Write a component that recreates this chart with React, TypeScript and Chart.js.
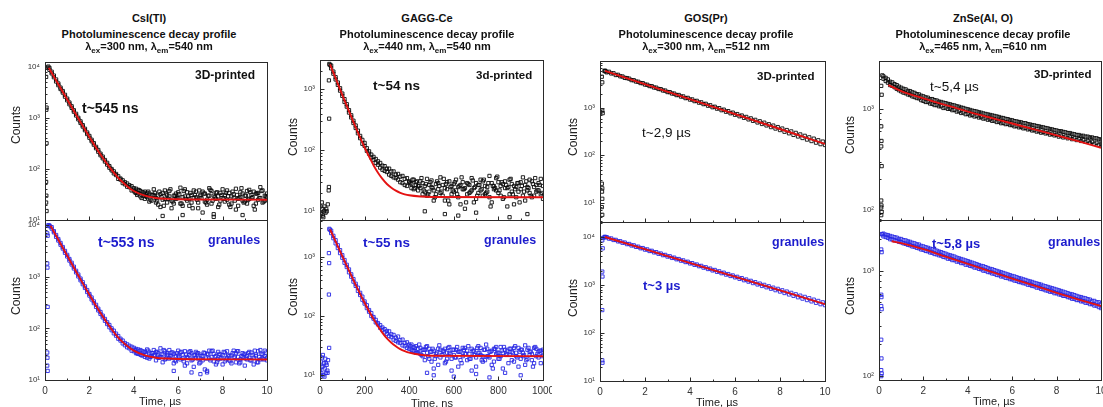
import React, { useEffect, useRef } from "react";
import { Chart, registerables } from "chart.js";

Chart.register(...registerables);

const FONT = '"Liberation Sans", Arial, Helvetica, sans-serif';
const RED = "rgb(228,18,18)";
const BLACK_PTS = "#0a0a0a";
const BLUE_PTS = "rgb(40,40,228)";
const BLUE_TXT = "rgb(28,28,205)";

// ---------- shared time grids ----------
const timeUs = [
  0.2, 0.3, 0.4, 0.5, 0.6, 0.7, 0.8, 0.9, 1.0, 1.1,
  1.2, 1.3, 1.4, 1.5, 1.6, 1.7, 1.8, 1.9, 2.0, 2.1,
  2.2, 2.3, 2.4, 2.5, 2.6, 2.7, 2.8, 2.9, 3.0, 3.1,
  3.2, 3.3, 3.4, 3.5, 3.6, 3.7, 3.8, 3.9, 4.0, 4.1,
  4.2, 4.3, 4.4, 4.5, 4.6, 4.7, 4.8, 4.9, 5.0, 5.1,
  5.2, 5.3, 5.4, 5.5, 5.6, 5.7, 5.8, 5.9, 6.0, 6.1,
  6.2, 6.3, 6.4, 6.5, 6.6, 6.7, 6.8, 6.9, 7.0, 7.1,
  7.2, 7.3, 7.4, 7.5, 7.6, 7.7, 7.8, 7.9, 8.0, 8.1,
  8.2, 8.3, 8.4, 8.5, 8.6, 8.7, 8.8, 8.9, 9.0, 9.1,
  9.2, 9.3, 9.4, 9.5, 9.6, 9.7, 9.8, 9.9, 10.0,
];
const timeUsTail = [
  4.05, 4.15, 4.25, 4.35, 4.45, 4.55, 4.65, 4.75, 4.85, 4.95,
  5.05, 5.15, 5.25, 5.35, 5.45, 5.55, 5.65, 5.75, 5.85, 5.95,
  6.05, 6.15, 6.25, 6.35, 6.45, 6.55, 6.65, 6.75, 6.85, 6.95,
  7.05, 7.15, 7.25, 7.35, 7.45, 7.55, 7.65, 7.75, 7.85, 7.95,
  8.05, 8.15, 8.25, 8.35, 8.45, 8.55, 8.65, 8.75, 8.85, 8.95,
  9.05, 9.15, 9.25, 9.35, 9.45, 9.55, 9.65, 9.75, 9.85, 9.95,
];
const timeNs = [
  50, 60, 70, 80, 90, 100, 110, 120, 130, 140,
  150, 160, 170, 180, 190, 200, 210, 220, 230, 240,
  250, 260, 270, 280, 290, 300, 310, 320, 330, 340,
  350, 360, 370, 380, 390, 400, 410, 420, 430, 440,
  450, 460, 470, 480, 490, 500, 510, 520, 530, 540,
  550, 560, 570, 580, 590, 600, 610, 620, 630, 640,
  650, 660, 670, 680, 690, 700, 710, 720, 730, 740,
  750, 760, 770, 780, 790, 800, 810, 820, 830, 840,
  850, 860, 870, 880, 890, 900, 910, 920, 930, 940,
  950, 960, 970, 980, 990, 1000,
];
const timeNsTail = [
  405, 415, 425, 435, 445, 455, 465, 475, 485, 495,
  505, 515, 525, 535, 545, 555, 565, 575, 585, 595,
  605, 615, 625, 635, 645, 655, 665, 675, 685, 695,
  705, 715, 725, 735, 745, 755, 765, 775, 785, 795,
  805, 815, 825, 835, 845, 855, 865, 875, 885, 895,
  905, 915, 925, 935, 945, 955, 965, 975, 985, 995,
];

const yTickValues = [1, 10, 100, 1000, 10000, 100000];
const xTicksUs = [0, 2, 4, 6, 8, 10];
const xTicksNs = [0, 200, 400, 600, 800, 1000];

// ---------- CsI(Tl) ----------
const csiPrintedA = [
  9600, 8100, 6300, 5700, 4400, 3950, 3150, 2850, 2220, 2010,
  1580, 1420, 1120, 1010, 800, 725, 575, 520, 410, 375,
  300, 272, 218, 200, 162, 150, 122, 114, 94, 90,
  76, 72, 62, 60, 50, 52, 44, 46, 38, 41,
  33, 37, 30, 36, 28, 33, 24, 31, 27, 20,
  32, 25, 38, 22, 29, 17, 30, 26, 35, 21,
  28, 40, 24, 19, 31, 27, 36, 22, 29, 14,
  33, 25, 42, 21, 30, 26, 18, 34, 27, 23,
  38, 20, 29, 32, 16, 26, 35, 24, 30, 21,
  39, 27, 19, 33, 25, 44, 22, 30, 28,
];
const csiPrintedB = [
  8800, 7500, 6800, 5200, 4750, 3700, 3380, 2620, 2400, 1860,
  1700, 1330, 1210, 940, 860, 680, 615, 485, 445, 350,
  322, 255, 236, 186, 175, 140, 132, 106, 100, 82,
  80, 64, 65, 53, 55, 45, 48, 38, 42, 34,
  39, 29, 35, 26, 34, 23, 31, 40, 22, 30,
  18, 34, 26, 31, 37, 24, 21, 33, 27, 43,
  19, 29, 35, 26, 22, 38, 28, 17, 31, 36,
  23, 20, 30, 37, 13, 34, 29, 24, 40, 31,
  25, 34, 21, 27, 41, 19, 28, 33, 23, 37,
  26, 31, 36, 21, 34, 27, 38, 24, 33,
];
const csiPrintedC = [
  35, 31, 38, 27, 33, 29, 36, 25, 31, 34,
  24, 36, 28, 19, 33, 26, 40, 23, 30, 27,
  32, 21, 37, 26, 29, 34, 17, 31, 25, 38,
  27, 33, 22, 30, 39, 24, 28, 35, 20, 31,
  26, 34, 29, 18, 36, 24, 31, 27, 42, 22,
  30, 25, 35, 28, 16, 33, 27, 37, 23, 29,
];
const csiPrintedExtraT = [0.05, 0.07, 0.06, 0.07, 0.05, 0.06, 0.05, 0.07, 0.12, 0.15, 5.3, 6.2, 7.6, 8.9];
const csiPrintedExtraC = [6400, 1600, 1450, 320, 56, 30, 22, 15, 9700, 10200, 12, 12.5, 11.5, 12.5];
const csiPrintedFitT = [0.15, 0.5, 1, 1.5, 2, 2.5, 3, 3.25, 3.5, 3.75, 4, 4.5, 5, 5.5, 6, 10];
const csiPrintedFitC = [10025, 5466, 2306, 981, 426, 193, 96, 71, 55, 44, 37, 30, 27, 26, 25.5, 25];

const csiGranulesA = [
  9800, 9100, 7200, 6400, 5000, 4500, 3500, 3150, 2460, 2200,
  1720, 1560, 1210, 1100, 850, 780, 605, 550, 430, 395,
  308, 285, 222, 207, 163, 152, 121, 116, 92, 90,
  72, 71, 58, 58, 47, 49, 41, 44, 36, 40,
  32, 38, 30, 35, 27, 34, 29, 38, 24, 33,
  28, 22, 36, 30, 26, 34, 21, 29, 37, 25,
  31, 19, 28, 35, 24, 30, 27, 33, 22, 29,
  16, 32, 26, 36, 23, 29, 25, 31, 20, 34,
  27, 24, 30, 37, 22, 28, 25, 33, 19, 29,
  35, 24, 27, 31, 22, 38, 26, 29, 24,
];
const csiGranulesB = [
  9500, 8500, 7600, 5900, 5350, 4150, 3750, 2900, 2640, 2050,
  1860, 1440, 1300, 1010, 920, 715, 650, 505, 462, 362,
  332, 260, 240, 190, 176, 140, 131, 105, 100, 80,
  79, 63, 63, 51, 52, 43, 46, 37, 42, 33,
  39, 31, 36, 28, 39, 26, 33, 30, 35, 27,
  41, 31, 25, 33, 38, 27, 32, 23, 30, 34,
  26, 36, 21, 30, 33, 18, 35, 26, 31, 24,
  33, 15, 37, 28, 32, 20, 35, 26, 30, 23,
  36, 29, 21, 27, 33, 36, 22, 28, 32, 25,
  27, 34, 20, 29, 36, 25, 31, 37, 27,
];
const csiGranulesC = [
  38, 33, 36, 30, 34, 31, 37, 28, 33, 30,
  35, 27, 32, 38, 26, 31, 29, 34, 24, 33,
  28, 35, 23, 31, 27, 36, 25, 30, 33, 21,
  29, 34, 26, 31, 24, 37, 28, 22, 32, 27,
  35, 25, 30, 23, 33, 28, 36, 21, 29, 31,
  26, 33, 24, 30, 37, 22, 28, 32, 25, 34,
];
const csiGranulesExtraT = [0.1, 0.12, 0.1, 0.11, 0.12, 0.1, 0.11, 0.1, 0.12, 0.15, 6.6, 7.0, 7.3, 5.8];
const csiGranulesExtraC = [6900, 6200, 1800, 1500, 260, 34, 27, 19, 15, 9900, 14, 13, 14, 15];
const csiGranulesFitT = [0.25, 0.5, 1, 1.5, 2, 2.5, 3, 3.25, 3.5, 3.75, 4, 4.5, 5, 5.5, 6, 10];
const csiGranulesFitC = [9650, 6183, 2546, 1057, 447, 198, 96, 70, 54, 44, 37, 30, 27, 26, 25.5, 25];

// ---------- GAGG-Ce ----------
const gaggPrintedA = [
  2450, 1800, 1580, 1180, 1040, 780, 690, 520, 455, 345,
  305, 232, 210, 158, 148, 118, 108, 88, 85, 70,
  72, 58, 62, 48, 55, 44, 50, 38, 45, 35,
  41, 30, 38, 27, 35, 30, 24, 33, 27, 22,
  31, 19, 26, 34, 21, 25, 15, 28, 23, 36,
  18, 24, 30, 13, 26, 21, 33, 17, 27, 23,
  11, 29, 20, 35, 24, 16, 27, 22, 31, 19,
  25, 38, 14, 26, 22, 30, 18, 28, 24, 12,
  33, 21, 26, 17, 29, 23, 36, 15, 25, 20,
  31, 18, 27, 22, 34, 16,
];
const gaggPrintedB = [
  2200, 1950, 1450, 1290, 950, 850, 620, 570, 415, 375,
  280, 255, 190, 172, 128, 132, 98, 96, 76, 78,
  62, 66, 52, 56, 46, 50, 40, 45, 36, 40,
  33, 37, 29, 34, 26, 31, 28, 23, 30, 26,
  24, 29, 21, 18, 27, 32, 22, 19, 29, 20,
  27, 15, 23, 31, 19, 28, 22, 25, 13, 30,
  24, 19, 27, 22, 14, 29, 20, 33, 18, 26,
  21, 17, 29, 23, 35, 20, 26, 16, 31, 24,
  19, 28, 13, 25, 21, 30, 18, 27, 22, 33,
  17, 25, 21, 29, 19, 26,
];
const gaggPrintedC = [
  29, 33, 24, 31, 26, 35, 22, 28, 19, 30,
  24, 17, 31, 26, 21, 34, 28, 15, 25, 22,
  30, 19, 26, 36, 23, 14, 28, 21, 32, 25,
  18, 27, 23, 33, 20, 29, 12, 26, 24, 37,
  22, 30, 17, 27, 25, 34, 19, 23, 29, 14,
  26, 21, 31, 24, 18, 28, 35, 22, 27, 20,
];
const gaggPrintedExtraT = [42, 44, 40, 41, 40, 39, 2, 5, 8, 10, 12, 15, 18, 20, 25, 28, 30, 35, 470, 560, 620, 700, 850, 930];
const gaggPrintedExtraC = [2600, 2500, 1400, 330, 25, 22, 12, 9, 14, 11, 8.5, 8, 10, 12, 9.5, 11, 10, 13, 10, 9, 8.5, 9.5, 8, 9];
const gaggPrintedFitT = [45, 60, 80, 100, 120, 140, 160, 180, 200, 220, 240, 260, 280, 300, 320, 340, 360, 380, 400, 450, 500, 1000];
const gaggPrintedFitC = [2570, 1873, 1229, 809, 535, 355, 238, 161, 111, 79, 57, 43, 34, 28, 24.3, 21.8, 20.1, 19, 18.3, 17.5, 17.2, 17];

const gaggGranulesA = [
  2750, 2050, 1900, 1400, 1290, 960, 880, 670, 610, 460,
  420, 322, 300, 226, 212, 162, 152, 118, 112, 90,
  86, 72, 70, 58, 60, 50, 55, 44, 48, 38,
  45, 35, 40, 31, 36, 28, 33, 26, 31, 24,
  29, 21, 27, 31, 19, 25, 13, 23, 28, 20,
  26, 16, 24, 30, 19, 22, 27, 14, 25, 21,
  29, 18, 23, 12, 26, 20, 31, 22, 17, 27,
  21, 25, 15, 28, 23, 19, 30, 24, 11, 26,
  22, 18, 29, 24, 14, 27, 21, 32, 19, 25,
  23, 16, 28, 20, 26, 22,
];
const gaggGranulesB = [
  2500, 2250, 1680, 1560, 1150, 1060, 790, 730, 545, 505,
  380, 350, 265, 246, 188, 176, 136, 126, 100, 96,
  78, 76, 63, 64, 53, 56, 46, 49, 40, 43,
  36, 39, 32, 35, 29, 33, 27, 30, 24, 28,
  23, 27, 18, 24, 28, 17, 26, 21, 15, 27,
  22, 28, 19, 24, 12, 27, 20, 25, 18, 29,
  23, 26, 19, 28, 22, 14, 24, 29, 21, 18,
  28, 20, 26, 17, 30, 24, 21, 13, 27, 23,
  28, 25, 17, 21, 29, 19, 24, 15, 27, 22,
  18, 29, 21, 25, 16, 27,
];
const gaggGranulesC = [
  31, 26, 29, 24, 33, 22, 27, 30, 21, 25,
  28, 19, 24, 32, 22, 26, 17, 29, 23, 27,
  20, 30, 25, 16, 27, 23, 31, 19, 26, 22,
  29, 24, 18, 27, 33, 21, 25, 13, 28, 24,
  19, 26, 30, 22, 16, 28, 24, 31, 20, 25,
  27, 22, 18, 29, 25, 14, 30, 23, 26, 21,
];
const gaggGranulesExtraT = [42, 44, 40, 41, 40, 41, 0, 3, 6, 9, 12, 15, 18, 21, 24, 27, 30, 33, 36, 2, 7, 13, 20, 26, 34, 480, 510, 600, 700, 760, 900];
const gaggGranulesExtraC = [2950, 2850, 1150, 780, 230, 29, 12, 17, 11, 20, 14, 10, 16, 13, 19, 11, 15, 12, 18, 10, 14, 22, 9.5, 16, 11, 11, 10, 9.5, 10.5, 9.2, 10];
const gaggGranulesFitT = [45, 60, 80, 100, 120, 140, 160, 180, 200, 220, 240, 260, 280, 300, 320, 340, 360, 380, 400, 450, 500, 1000];
const gaggGranulesFitC = [2901, 2179, 1490, 1021, 702, 484, 336, 236, 167, 120, 89, 67, 52, 42, 35.5, 31, 27.7, 25.6, 24.1, 22.2, 21.4, 21];

// ---------- GOS(Pr) ----------
const gosPrinted = [
  6050, 5700, 5850, 5400, 5450, 5000, 5050, 4700, 4650, 4350,
  4300, 4180, 3900, 3880, 3640, 3600, 3380, 3360, 3140, 3110,
  2920, 2900, 2720, 2700, 2530, 2510, 2350, 2340, 2180, 2170,
  2030, 2020, 1880, 1890, 1750, 1760, 1620, 1640, 1510, 1520,
  1400, 1420, 1300, 1320, 1210, 1230, 1120, 1145, 1040, 1065,
  970, 995, 900, 925, 835, 860, 775, 800, 720, 745,
  670, 695, 620, 648, 575, 605, 535, 562, 495, 525,
  460, 490, 428, 455, 395, 425, 368, 395, 342, 368,
  315, 342, 292, 320, 270, 298, 250, 276, 232, 258,
  215, 240, 200, 225, 185, 208, 172, 195, 165,
];
const gosPrintedExtraT = [0.22, 0.25, 0.1, 0.08, 0.1, 0.12, 0.08, 0.1, 0.09, 0.1, 0.08, 0.1];
const gosPrintedExtraC = [6200, 6000, 3500, 4600, 880, 780, 25, 20, 17, 12, 8, 5.5];
const gosPrintedFitT = [0.22, 5, 10];
const gosPrintedFitC = [6100, 1073, 174];

const gosGranules = [
  9950, 9900, 9250, 9300, 8650, 8700, 8100, 8150, 7580, 7650,
  7100, 7150, 6650, 6700, 6220, 6270, 5820, 5870, 5450, 5500,
  5100, 5150, 4770, 4830, 4470, 4520, 4180, 4230, 3910, 3960,
  3660, 3710, 3430, 3470, 3210, 3250, 3000, 3050, 2810, 2850,
  2630, 2670, 2460, 2500, 2300, 2340, 2150, 2195, 2010, 2055,
  1880, 1925, 1760, 1805, 1645, 1690, 1540, 1580, 1440, 1480,
  1345, 1390, 1255, 1300, 1175, 1220, 1095, 1145, 1025, 1070,
  955, 1005, 895, 940, 835, 880, 780, 830, 730, 775,
  680, 730, 635, 685, 595, 640, 555, 600, 520, 565,
  485, 530, 455, 495, 425, 465, 398, 435, 380,
];
const gosGranulesExtraT = [0.22, 0.25, 0.1, 0.12, 0.1, 0.11, 0.1, 0.1, 0.11, 0.12];
const gosGranulesExtraC = [10100, 9900, 8500, 5800, 1900, 1500, 300, 27, 24, 9500];
const gosGranulesFitT = [0.22, 5, 10];
const gosGranulesFitC = [10000, 2070, 399];

// ---------- ZnSe(Al, O) ----------
const znsePrintedA = [
  2100, 1890, 1960, 1720, 1830, 1640, 1720, 1530, 1620, 1450,
  1560, 1390, 1500, 1330, 1440, 1280, 1390, 1220, 1330, 1170,
  1290, 1130, 1250, 1090, 1210, 1060, 1170, 1020, 1140, 1000,
  1110, 970, 1080, 940, 1050, 910, 1020, 885, 990, 860,
  960, 840, 940, 820, 915, 800, 890, 780, 870, 760,
  850, 740, 830, 720, 810, 705, 790, 690, 770, 670,
  750, 655, 735, 640, 720, 625, 700, 610, 685, 595,
  670, 580, 655, 570, 640, 555, 625, 545, 610, 530,
  600, 520, 585, 510, 575, 500, 560, 490, 550, 480,
  540, 470, 530, 460, 520, 450, 510, 440, 495,
];
const znsePrintedB = [
  1990, 2030, 1820, 1860, 1690, 1760, 1580, 1660, 1490, 1580,
  1430, 1510, 1370, 1460, 1310, 1400, 1270, 1350, 1200, 1300,
  1170, 1250, 1120, 1220, 1090, 1180, 1060, 1150, 1030, 1120,
  1000, 1090, 975, 1060, 945, 1030, 920, 1000, 890, 975,
  870, 950, 850, 925, 825, 900, 805, 880, 785, 860,
  765, 840, 745, 815, 725, 795, 710, 775, 690, 755,
  675, 740, 660, 720, 645, 705, 630, 690, 615, 675,
  600, 660, 590, 645, 575, 630, 565, 615, 550, 600,
  540, 590, 530, 575, 520, 565, 510, 550, 500, 540,
  490, 530, 480, 520, 470, 510, 460, 500, 445,
];
const znsePrintedExtraT = [0.15, 0.1, 0.12, 0.1, 0.11, 0.1, 0.12, 0.1, 0.11, 0.1, 0.12, 0.1];
const znsePrintedExtraC = [2150, 1690, 1380, 670, 480, 424, 270, 123, 110, 105, 95, 88];
const znsePrintedFitT = [0.42, 1, 2, 3, 4, 5, 6, 7, 8, 9, 10];
const znsePrintedFitC = [1720, 1500, 1270, 1090, 940, 820, 715, 625, 545, 475, 410];

const znseGranulesA = [
  2250, 2090, 2180, 1990, 2110, 1940, 2060, 1880, 2000, 1820,
  1940, 1760, 1880, 1700, 1820, 1650, 1770, 1590, 1700, 1540,
  1650, 1490, 1600, 1440, 1550, 1400, 1500, 1350, 1450, 1300,
  1400, 1260, 1360, 1220, 1310, 1180, 1270, 1140, 1230, 1110,
  1190, 1070, 1150, 1040, 1110, 1000, 1080, 970, 1040, 940,
  1010, 910, 980, 880, 950, 855, 920, 830, 890, 805,
  865, 780, 840, 760, 815, 735, 790, 715, 765, 690,
  745, 670, 720, 650, 700, 630, 680, 610, 660, 595,
  640, 575, 620, 560, 600, 540, 585, 525, 565, 510,
  550, 495, 535, 480, 515, 465, 500, 450, 485,
];
const znseGranulesB = [
  2120, 2200, 2050, 2140, 1980, 2080, 1920, 2010, 1860, 1950,
  1800, 1900, 1740, 1840, 1690, 1780, 1630, 1720, 1580, 1670,
  1530, 1620, 1480, 1570, 1430, 1520, 1390, 1470, 1340, 1420,
  1300, 1380, 1260, 1330, 1220, 1290, 1180, 1250, 1140, 1210,
  1100, 1170, 1070, 1130, 1030, 1100, 1000, 1060, 965, 1030,
  935, 995, 905, 965, 880, 935, 850, 905, 825, 880,
  800, 850, 775, 825, 755, 800, 730, 780, 710, 755,
  690, 735, 665, 710, 645, 690, 630, 670, 610, 650,
  590, 630, 575, 610, 555, 595, 540, 575, 525, 560,
  510, 545, 495, 530, 480, 515, 465, 500, 440,
];
const znseGranulesExtraT = [0.12, 0.15, 0.1, 0.12, 0.1, 0.11, 0.1, 0.12, 0.1, 0.11, 0.1, 0.12, 0.1];
const znseGranulesExtraC = [2230, 2210, 1590, 1500, 590, 560, 460, 430, 220, 146, 113, 105, 99];
const znseGranulesFitT = [0.57, 1, 2, 3, 4, 5, 6, 7, 8, 9, 10];
const znseGranulesFitC = [1905, 1830, 1600, 1360, 1160, 985, 840, 720, 615, 530, 460];

// ---------- helpers ----------
type XY = { t: number[]; c: number[] };

function zip(t: number[], c: number[]) {
  const n = Math.min(t.length, c.length);
  const out: { x: number; y: number }[] = [];
  for (let i = 0; i < n; i++) out.push({ x: t[i], y: c[i] });
  return out;
}

const SUP: Record<number, string> = { 0: "\u2070", 1: "\u00B9", 2: "\u00B2", 3: "\u00B3", 4: "\u2074", 5: "\u2075" };
function powLabel(v: number) {
  const e = Math.round(Math.log10(v));
  return "10" + (SUP[e] ?? "");
}

interface SubplotProps {
  left: number;
  right: number;
  top: number;
  bottom: number;
  xMax: number;
  xTicks: number[];
  xMinor: number;
  showX: boolean;
  yMin: number;
  yMax: number;
  series: XY[];
  fit: XY;
  color: string;
}

function Subplot(p: SubplotProps) {
  const ref = useRef<HTMLCanvasElement | null>(null);
  const PADL = 42;
  const PADT = 8;
  const PADR = 9;
  const PADB = p.showX ? 20 : 8;
  const w = p.right - p.left + PADL + PADR;
  const h = p.bottom - p.top + PADT + PADB;

  useEffect(() => {
    if (!ref.current) return;
    const framePlugin = {
      id: "frameTicks",
      afterDatasetsDraw(chart: any) {
        const { ctx, chartArea: a, scales } = chart;
        const xs = scales.x;
        const ys = scales.y;
        const L = Math.round(a.left);
        const R = Math.round(a.right);
        const T = Math.round(a.top);
        const B = Math.round(a.bottom);
        ctx.save();
        ctx.strokeStyle = "#2a2a2a";
        ctx.lineWidth = 1;
        ctx.strokeRect(L + 0.5, T + 0.5, R - L, B - T);
        ctx.beginPath();
        const nMinor = Math.round(p.xMax / p.xMinor);
        for (let i = 0; i <= nMinor; i++) {
          const v = i * p.xMinor;
          const px = Math.round(xs.getPixelForValue(v)) + 0.5;
          const major = p.xTicks.indexOf(v) >= 0;
          const len = major ? 4 : 2;
          ctx.moveTo(px, B + 0.5);
          ctx.lineTo(px, B + 0.5 - len);
        }
        const e0 = Math.floor(Math.log10(p.yMin));
        const e1 = Math.ceil(Math.log10(p.yMax));
        for (let e = e0; e <= e1; e++) {
          for (let m = 1; m <= 9; m++) {
            const v = m * Math.pow(10, e);
            if (v < p.yMin || v > p.yMax) continue;
            const py = Math.round(ys.getPixelForValue(v)) + 0.5;
            const len = m === 1 ? 4 : 2;
            ctx.moveTo(L + 0.5, py);
            ctx.lineTo(L + 0.5 + len, py);
          }
        }
        ctx.stroke();
        ctx.restore();
      },
    };

    const datasets: any[] = [
      {
        label: "fit",
        data: zip(p.fit.t, p.fit.c),
        showLine: true,
        borderColor: RED,
        backgroundColor: RED,
        borderWidth: 1.9,
        pointRadius: 0,
        pointHitRadius: 0,
        cubicInterpolationMode: "monotone",
        order: 0,
      },
      ...p.series.map((s, i) => ({
        label: "data" + i,
        data: zip(s.t, s.c),
        showLine: false,
        pointStyle: "rect",
        pointRadius: 2.3,
        borderWidth: 0.9,
        borderColor: p.color,
        backgroundColor: "rgba(255,255,255,0)",
        order: 1 + i,
      })),
    ];

    const chart = new Chart(ref.current, {
      type: "scatter",
      data: { datasets },
      options: {
        responsive: false,
        animation: false,
        devicePixelRatio: 1,
        events: [],
        layout: { padding: { left: 0, top: PADT, right: PADR, bottom: p.showX ? 0 : PADB } },
        plugins: {
          legend: { display: false },
          tooltip: { enabled: false },
          title: { display: false },
        },
        scales: {
          x: {
            type: "linear",
            min: 0,
            max: p.xMax,
            grid: { display: false, drawTicks: false },
            border: { display: false },
            afterBuildTicks: (s: any) => {
              s.ticks = p.xTicks.map((v) => ({ value: v }));
            },
            ticks: {
              display: p.showX,
              autoSkip: false,
              maxRotation: 0,
              padding: 5,
              color: "#333",
              font: { family: FONT, size: 10 },
              callback: (v: any) => String(v),
            },
            afterFit: (s: any) => {
              s.height = p.showX ? PADB : 0;
              s.paddingLeft = 0;
              s.paddingRight = 0;
            },
          },
          y: {
            type: "logarithmic",
            min: p.yMin,
            max: p.yMax,
            grid: { display: false, drawTicks: false },
            border: { display: false },
            afterBuildTicks: (s: any) => {
              s.ticks = yTickValues
                .filter((v) => v >= p.yMin && v <= p.yMax)
                .map((v) => ({ value: v, major: true }));
            },
            ticks: {
              autoSkip: false,
              padding: 5,
              color: "#333",
              font: { family: FONT, size: 8 },
              callback: (v: any) => powLabel(Number(v)),
            },
            afterFit: (s: any) => {
              s.width = PADL;
              s.paddingTop = 0;
              s.paddingBottom = 0;
            },
          },
        },
      } as any,
      plugins: [framePlugin],
    });
    return () => chart.destroy();
  }, []);

  return (
    <canvas
      ref={ref}
      width={w}
      height={h}
      style={{ position: "absolute", left: p.left - PADL, top: p.top - PADT, width: w, height: h }}
    />
  );
}

function Txt(props: {
  x: number;
  y: number;
  size: number;
  bold?: boolean;
  color?: string;
  center?: boolean;
  children: React.ReactNode;
}) {
  return (
    <div
      style={{
        position: "absolute",
        left: props.x,
        top: props.y,
        transform: props.center ? "translate(-50%,-50%)" : "translate(0,-50%)",
        fontSize: props.size,
        fontWeight: props.bold ? 700 : 400,
        color: props.color ?? "#111",
        whiteSpace: "nowrap",
        lineHeight: 1,
        fontFamily: FONT,
      }}
    >
      {props.children}
    </div>
  );
}

function CountsLabel({ x, y }: { x: number; y: number }) {
  return (
    <div
      style={{
        position: "absolute",
        left: x,
        top: y,
        transform: "translate(-50%,-50%) rotate(-90deg)",
        fontSize: 12,
        color: "#222",
        whiteSpace: "nowrap",
        lineHeight: 1,
        fontFamily: FONT,
      }}
    >
      Counts
    </div>
  );
}

const subStyle: React.CSSProperties = { fontSize: 8, verticalAlign: "-3px", lineHeight: 1 };

function PanelTitle({ cx, name, ex, em }: { cx: number; name: string; ex: string; em: string }) {
  return (
    <>
      <Txt x={cx} y={18} size={11} bold center>
        {name}
      </Txt>
      <Txt x={cx} y={34} size={11} bold center>
        Photoluminescence decay profile
      </Txt>
      <Txt x={cx} y={48} size={11} bold center>
        <span>
          λ<sub style={subStyle}>ex</sub>={ex} nm, λ<sub style={subStyle}>em</sub>={em} nm
        </span>
      </Txt>
    </>
  );
}

export default function App() {
  return (
    <div
      style={{
        position: "absolute",
        left: 0,
        top: 0,
        width: 1103,
        height: 407,
        overflow: "hidden",
        background: "#fff",
        fontFamily: FONT,
      }}
    >
      {/* ---- CsI(Tl) ---- */}
      <Subplot
        left={45} right={267} top={62} bottom={220}
        xMax={10} xTicks={xTicksUs} xMinor={1} showX={false}
        yMin={10} yMax={12540}
        series={[
          { t: timeUs, c: csiPrintedA },
          { t: timeUs, c: csiPrintedB },
          { t: timeUsTail, c: csiPrintedC },
          { t: csiPrintedExtraT, c: csiPrintedExtraC },
        ]}
        fit={{ t: csiPrintedFitT, c: csiPrintedFitC }}
        color={BLACK_PTS}
      />
      <Subplot
        left={45} right={267} top={220} bottom={380}
        xMax={10} xTicks={xTicksUs} xMinor={1} showX={true}
        yMin={10} yMax={12500}
        series={[
          { t: timeUs, c: csiGranulesA },
          { t: timeUs, c: csiGranulesB },
          { t: timeUsTail, c: csiGranulesC },
          { t: csiGranulesExtraT, c: csiGranulesExtraC },
        ]}
        fit={{ t: csiGranulesFitT, c: csiGranulesFitC }}
        color={BLUE_PTS}
      />

      {/* ---- GAGG-Ce ---- */}
      <Subplot
        left={320} right={543} top={60} bottom={220}
        xMax={1000} xTicks={xTicksNs} xMinor={100} showX={false}
        yMin={7.2} yMax={3020}
        series={[
          { t: timeNs, c: gaggPrintedA },
          { t: timeNs, c: gaggPrintedB },
          { t: timeNsTail, c: gaggPrintedC },
          { t: gaggPrintedExtraT, c: gaggPrintedExtraC },
        ]}
        fit={{ t: gaggPrintedFitT, c: gaggPrintedFitC }}
        color={BLACK_PTS}
      />
      <Subplot
        left={320} right={543} top={220} bottom={380}
        xMax={1000} xTicks={xTicksNs} xMinor={100} showX={true}
        yMin={8.33} yMax={4160}
        series={[
          { t: timeNs, c: gaggGranulesA },
          { t: timeNs, c: gaggGranulesB },
          { t: timeNsTail, c: gaggGranulesC },
          { t: gaggGranulesExtraT, c: gaggGranulesExtraC },
        ]}
        fit={{ t: gaggGranulesFitT, c: gaggGranulesFitC }}
        color={BLUE_PTS}
      />

      {/* ---- GOS(Pr) ---- */}
      <Subplot
        left={600} right={825} top={61} bottom={222}
        xMax={10} xTicks={xTicksUs} xMinor={1} showX={false}
        yMin={3.87} yMax={9900}
        series={[
          { t: timeUs, c: gosPrinted },
          { t: gosPrintedExtraT, c: gosPrintedExtraC },
        ]}
        fit={{ t: gosPrintedFitT, c: gosPrintedFitC }}
        color={BLACK_PTS}
      />
      <Subplot
        left={600} right={825} top={222} bottom={381}
        xMax={10} xTicks={xTicksUs} xMinor={1} showX={true}
        yMin={10} yMax={20500}
        series={[
          { t: timeUs, c: gosGranules },
          { t: gosGranulesExtraT, c: gosGranulesExtraC },
        ]}
        fit={{ t: gosGranulesFitT, c: gosGranulesFitC }}
        color={BLUE_PTS}
      />

      {/* ---- ZnSe(Al, O) ---- */}
      <Subplot
        left={879} right={1101} top={61} bottom={220}
        xMax={10} xTicks={xTicksUs} xMinor={1} showX={false}
        yMin={78.8} yMax={2985}
        series={[
          { t: timeUs, c: znsePrintedA },
          { t: timeUs, c: znsePrintedB },
          { t: znsePrintedExtraT, c: znsePrintedExtraC },
        ]}
        fit={{ t: znsePrintedFitT, c: znsePrintedFitC }}
        color={BLACK_PTS}
      />
      <Subplot
        left={879} right={1101} top={220} bottom={380}
        xMax={10} xTicks={xTicksUs} xMinor={1} showX={true}
        yMin={91} yMax={3034}
        series={[
          { t: timeUs, c: znseGranulesA },
          { t: timeUs, c: znseGranulesB },
          { t: znseGranulesExtraT, c: znseGranulesExtraC },
        ]}
        fit={{ t: znseGranulesFitT, c: znseGranulesFitC }}
        color={BLUE_PTS}
      />

      {/* ---- titles ---- */}
      <PanelTitle cx={149} name="CsI(Tl)" ex="300" em="540" />
      <PanelTitle cx={427} name="GAGG-Ce" ex="440" em="540" />
      <PanelTitle cx={706} name="GOS(Pr)" ex="300" em="512" />
      <PanelTitle cx={983} name="ZnSe(Al, O)" ex="465" em="610" />

      {/* ---- axis titles ---- */}
      <CountsLabel x={15.5} y={125} />
      <CountsLabel x={15.5} y={296} />
      <CountsLabel x={292.5} y={137} />
      <CountsLabel x={292.5} y={296.5} />
      <CountsLabel x={572.5} y={137} />
      <CountsLabel x={572.5} y={298} />
      <CountsLabel x={849.5} y={135} />
      <CountsLabel x={849.5} y={296} />

      <Txt x={160} y={401} size={11} color="#222" center>Time, µs</Txt>
      <Txt x={432} y={403} size={11} color="#222" center>Time, ns</Txt>
      <Txt x={717} y={402} size={11} color="#222" center>Time, µs</Txt>
      <Txt x={994} y={401} size={11} color="#222" center>Time, µs</Txt>

      {/* ---- annotations ---- */}
      <Txt x={195} y={75} size={12} bold>3D-printed</Txt>
      <Txt x={82} y={108} size={14} bold>t~545 ns</Txt>
      <Txt x={98} y={242} size={14} bold color={BLUE_TXT}>t~553 ns</Txt>
      <Txt x={208} y={240} size={12.5} bold color={BLUE_TXT}>granules</Txt>

      <Txt x={476} y={76} size={11.5} bold>3d-printed</Txt>
      <Txt x={373} y={86} size={13.5} bold>t~54 ns</Txt>
      <Txt x={363} y={243} size={13.5} bold color={BLUE_TXT}>t~55 ns</Txt>
      <Txt x={484} y={240} size={12.5} bold color={BLUE_TXT}>granules</Txt>

      <Txt x={757} y={77} size={11.5} bold>3D-printed</Txt>
      <Txt x={642} y={133} size={13.5}>t~2,9 µs</Txt>
      <Txt x={772} y={242} size={12.5} bold color={BLUE_TXT}>granules</Txt>
      <Txt x={643} y={285} size={13} bold color={BLUE_TXT}>t~3 µs</Txt>

      <Txt x={1034} y={75} size={11.5} bold>3D-printed</Txt>
      <Txt x={930} y={87} size={13.5}>t~5,4 µs</Txt>
      <Txt x={932} y={243} size={13} bold color={BLUE_TXT}>t~5,8 µs</Txt>
      <Txt x={1048} y={242} size={12.5} bold color={BLUE_TXT}>granules</Txt>
    </div>
  );
}
